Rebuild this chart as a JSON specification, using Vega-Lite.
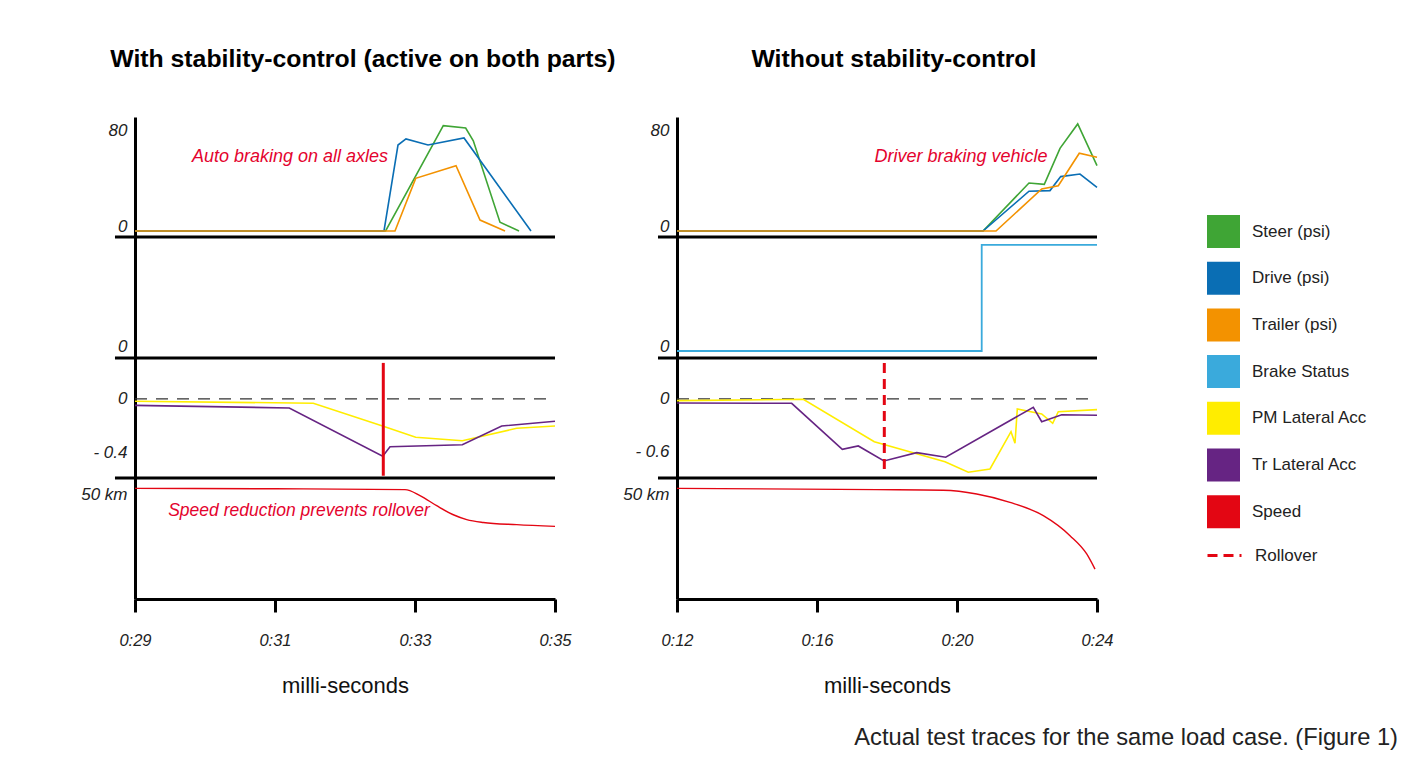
{
  "$schema": "https://vega.github.io/schema/vega-lite/v6.json",
  "background": "white",
  "padding": {"left": 80, "top": 47, "right": 10, "bottom": 10},
  "config": {
    "view": {"stroke": null},
    "font": "Liberation Sans",
    "axis": {"grid": false, "domainColor": "black", "domainWidth": 3, "labelFont": "Liberation Sans", "labelFontStyle": "italic", "labelColor": "#222", "titleFont": "Liberation Sans"},
    "axisY": {"ticks": false, "labelPadding": 8, "labelFontSize": 17},
    "title": {"font": "Liberation Sans"}
  },
  "datasets": {
    "press_L": [
      {"t": 29, "v": 0, "s": "Steer (psi)"}, {"t": 32.58, "v": 0, "s": "Steer (psi)"}, {"t": 33.404, "v": 83.4, "s": "Steer (psi)"}, {"t": 33.724, "v": 81.6, "s": "Steer (psi)"}, {"t": 33.833, "v": 71.5, "s": "Steer (psi)"}, {"t": 34.214, "v": 6.9, "s": "Steer (psi)"}, {"t": 34.486, "v": 0, "s": "Steer (psi)"},
      {"t": 29, "v": 0, "s": "Drive (psi)"}, {"t": 32.557, "v": 0, "s": "Drive (psi)"}, {"t": 32.757, "v": 68.1, "s": "Drive (psi)"}, {"t": 32.871, "v": 72.9, "s": "Drive (psi)"}, {"t": 33.186, "v": 68.1, "s": "Drive (psi)"}, {"t": 33.7, "v": 73.7, "s": "Drive (psi)"}, {"t": 34.657, "v": 0, "s": "Drive (psi)"},
      {"t": 29, "v": 0, "s": "Trailer (psi)"}, {"t": 32.714, "v": 0, "s": "Trailer (psi)"}, {"t": 33.01, "v": 41.7, "s": "Trailer (psi)"}, {"t": 33.586, "v": 51.7, "s": "Trailer (psi)"}, {"t": 33.929, "v": 8.7, "s": "Trailer (psi)"}, {"t": 34.286, "v": 0, "s": "Trailer (psi)"}
    ],
    "press_R": [
      {"t": 12, "v": 0, "s": "Steer (psi)"}, {"t": 20.743, "v": 0, "s": "Steer (psi)"}, {"t": 22.057, "v": 38.0, "s": "Steer (psi)"}, {"t": 22.494, "v": 37.0, "s": "Steer (psi)"}, {"t": 22.943, "v": 65.5, "s": "Steer (psi)"}, {"t": 23.449, "v": 84.8, "s": "Steer (psi)"}, {"t": 24, "v": 51.8, "s": "Steer (psi)"},
      {"t": 12, "v": 0, "s": "Drive (psi)"}, {"t": 20.743, "v": 0, "s": "Drive (psi)"}, {"t": 22.057, "v": 31.5, "s": "Drive (psi)"}, {"t": 22.657, "v": 32.0, "s": "Drive (psi)"}, {"t": 22.963, "v": 43.1, "s": "Drive (psi)"}, {"t": 23.514, "v": 45.1, "s": "Drive (psi)"}, {"t": 24, "v": 34.6, "s": "Drive (psi)"},
      {"t": 12, "v": 0, "s": "Trailer (psi)"}, {"t": 21.114, "v": 0, "s": "Trailer (psi)"}, {"t": 22.42, "v": 33.3, "s": "Trailer (psi)"}, {"t": 22.894, "v": 35.9, "s": "Trailer (psi)"}, {"t": 23.494, "v": 61.6, "s": "Trailer (psi)"}, {"t": 24, "v": 58.4, "s": "Trailer (psi)"}
    ],
    "brake_R": [
      {"t": 12, "v": 0, "s": "Brake Status"}, {"t": 20.706, "v": 1, "s": "Brake Status"}, {"t": 24, "v": 1, "s": "Brake Status"}
    ],
    "acc_L": [
      {"t": 29, "v": -0.017, "s": "PM Lateral Acc"}, {"t": 31.547, "v": -0.032, "s": "PM Lateral Acc"}, {"t": 32.547, "v": -0.206, "s": "PM Lateral Acc"}, {"t": 33.01, "v": -0.289, "s": "PM Lateral Acc"}, {"t": 33.676, "v": -0.315, "s": "PM Lateral Acc"}, {"t": 34.453, "v": -0.221, "s": "PM Lateral Acc"}, {"t": 35, "v": -0.204, "s": "PM Lateral Acc"},
      {"t": 29, "v": -0.048, "s": "Tr Lateral Acc"}, {"t": 31.204, "v": -0.068, "s": "Tr Lateral Acc"}, {"t": 32.539, "v": -0.432, "s": "Tr Lateral Acc"}, {"t": 32.643, "v": -0.36, "s": "Tr Lateral Acc"}, {"t": 33.676, "v": -0.345, "s": "Tr Lateral Acc"}, {"t": 34.239, "v": -0.204, "s": "Tr Lateral Acc"}, {"t": 35, "v": -0.168, "s": "Tr Lateral Acc"}
    ],
    "acc_R": [
      {"t": 12, "v": -0.019, "s": "PM Lateral Acc"}, {"t": 15.609, "v": -0.003, "s": "PM Lateral Acc"}, {"t": 17.637, "v": -0.484, "s": "PM Lateral Acc"}, {"t": 19.657, "v": -0.71, "s": "PM Lateral Acc"}, {"t": 20.323, "v": -0.83, "s": "PM Lateral Acc"}, {"t": 20.943, "v": -0.793, "s": "PM Lateral Acc"}, {"t": 21.543, "v": -0.37, "s": "PM Lateral Acc"}, {"t": 21.657, "v": -0.502, "s": "PM Lateral Acc"}, {"t": 21.723, "v": -0.113, "s": "PM Lateral Acc"}, {"t": 22.42, "v": -0.17, "s": "PM Lateral Acc"}, {"t": 22.734, "v": -0.275, "s": "PM Lateral Acc"}, {"t": 22.894, "v": -0.144, "s": "PM Lateral Acc"}, {"t": 24, "v": -0.121, "s": "PM Lateral Acc"},
      {"t": 12, "v": -0.045, "s": "Tr Lateral Acc"}, {"t": 15.277, "v": -0.049, "s": "Tr Lateral Acc"}, {"t": 16.723, "v": -0.57, "s": "Tr Lateral Acc"}, {"t": 17.18, "v": -0.532, "s": "Tr Lateral Acc"}, {"t": 17.914, "v": -0.702, "s": "Tr Lateral Acc"}, {"t": 18.849, "v": -0.608, "s": "Tr Lateral Acc"}, {"t": 19.677, "v": -0.66, "s": "Tr Lateral Acc"}, {"t": 22.18, "v": -0.094, "s": "Tr Lateral Acc"}, {"t": 22.42, "v": -0.257, "s": "Tr Lateral Acc"}, {"t": 22.991, "v": -0.178, "s": "Tr Lateral Acc"}, {"t": 24, "v": -0.185, "s": "Tr Lateral Acc"}
    ],
    "speed_L": [
      {"t": 29, "v": 50.3, "s": "Speed"}, {"t": 31, "v": 50.1, "s": "Speed"}, {"t": 32.857, "v": 49.7, "s": "Speed"}, {"t": 33.071, "v": 47.0, "s": "Speed"}, {"t": 33.31, "v": 42.4, "s": "Speed"}, {"t": 33.547, "v": 38.3, "s": "Speed"}, {"t": 33.739, "v": 36.1, "s": "Speed"}, {"t": 33.976, "v": 34.8, "s": "Speed"}, {"t": 34.453, "v": 33.8, "s": "Speed"}, {"t": 35, "v": 33.0, "s": "Speed"}
    ],
    "speed_R": [
      {"t": 12, "v": 50.3, "s": "Speed"}, {"t": 17.706, "v": 49.7, "s": "Speed"}, {"t": 19.609, "v": 49.4, "s": "Speed"}, {"t": 20.563, "v": 47.7, "s": "Speed"}, {"t": 21.514, "v": 43.9, "s": "Speed"}, {"t": 22.466, "v": 37.9, "s": "Speed"}, {"t": 23.229, "v": 28.8, "s": "Speed"}, {"t": 23.706, "v": 20.5, "s": "Speed"}, {"t": 23.943, "v": 13.6, "s": "Speed"}
    ],
    "sep_L1": [{"t": 28.714, "t2": 35, "v": -4.75}],
    "sep_L2": [{"t": 28.714, "t2": 35, "v": -0.066}],
    "sep_L3": [{"t": 28.714, "t2": 35, "v": -0.596}],
    "sep_R1": [{"t": 11.457, "t2": 24, "v": -4.75}],
    "sep_R2": [{"t": 11.457, "t2": 24, "v": -0.066}],
    "sep_R3": [{"t": 11.457, "t2": 24, "v": -0.895}],
    "zero_L": [{"t": 29, "t2": 35, "v": 0}],
    "zero_R": [{"t": 12, "t2": 24, "v": 0}],
    "roll_L": [{"t": 32.547, "v": 0.272, "v2": -0.579}],
    "roll_R": [{"t": 17.923, "v": 0.408, "v2": -0.86, "k": "Rollover"}],
    "note_L1": [{"t": 31.214, "v": 58.6, "label": "Auto braking on all axles"}],
    "note_L4": [{"t": 31.343, "v": 40, "label": "Speed reduction prevents rollover"}],
    "note_R1": [{"t": 20.114, "v": 58.6, "label": "Driver braking vehicle"}]
  },
  "title": {"text": "Actual test traces for the same load case. (Figure 1)", "orient": "bottom", "anchor": "end", "fontSize": 23.7, "fontWeight": "normal", "color": "#222", "offset": 29, "dx": 30},
  "spacing": 542,
  "bounds": "flush",
  "hconcat": [
    {
      "title": {"text": "With stability-control (active on both parts)", "fontSize": 24.8, "fontWeight": "bold", "color": "black", "anchor": "middle", "offset": 45, "dx": 37},
      "spacing": 0,
      "bounds": "flush",
      "vconcat": [
        {
          "width": 420, "height": 120,
          "encoding": {
            "x": {"field": "t", "type": "quantitative", "scale": {"domain": [29, 35], "nice": false, "zero": false}, "axis": null},
            "y": {"field": "v", "type": "quantitative", "scale": {"domain": [-4.75, 90.3], "nice": false, "zero": false}, "axis": {"title": null, "values": [0, 80], "labelBaseline": {"condition": {"test": "datum.value == 0", "value": "alphabetic"}, "value": "middle"}}}
          },
          "layer": [
            {"data": {"name": "sep_L1"}, "mark": {"type": "rule", "color": "black", "strokeWidth": 3, "clip": false}, "encoding": {"x2": {"field": "t2"}}},
            {"data": {"name": "press_L"}, "mark": {"type": "line", "strokeWidth": 1.6}, "encoding": {"color": {"field": "s", "type": "nominal",
              "scale": {"domain": ["Steer (psi)", "Drive (psi)", "Trailer (psi)", "Brake Status", "PM Lateral Acc", "Tr Lateral Acc", "Speed"], "range": ["#3fa535", "#0a6eb4", "#f39200", "#3aaadc", "#ffed00", "#662483", "#e30613"]},
              "legend": {"orient": "none", "legendX": 1072, "legendY": 98, "title": null, "symbolType": "square", "symbolSize": 1089, "symbolStrokeWidth": 0, "labelFontSize": 17, "labelFont": "Liberation Sans", "labelColor": "#222", "rowPadding": 13.7, "labelOffset": 12, "padding": 0,
                "encode": {"symbols": {"update": {"fill": {"scale": "color", "field": "value"}, "fillOpacity": {"value": 1}, "opacity": {"value": 1}}}}}}}},
            {"data": {"name": "note_L1"}, "mark": {"type": "text", "fontSize": 18, "fontStyle": "italic", "color": "#e4032e", "align": "center", "baseline": "middle"}, "encoding": {"text": {"field": "label"}}}
          ]
        },
        {
          "width": 420, "height": 121,
          "encoding": {
            "x": {"field": "t", "type": "quantitative", "scale": {"domain": [29, 35], "nice": false, "zero": false}, "axis": null},
            "y": {"field": "v", "type": "quantitative", "scale": {"domain": [-0.066, 1.075], "nice": false, "zero": false}, "axis": {"title": null, "values": [0], "labelBaseline": "alphabetic"}}
          },
          "layer": [
            {"data": {"name": "sep_L2"}, "mark": {"type": "rule", "color": "black", "strokeWidth": 3, "clip": false}, "encoding": {"x2": {"field": "t2"}}}
          ]
        },
        {
          "width": 420, "height": 120,
          "encoding": {
            "x": {"field": "t", "type": "quantitative", "scale": {"domain": [29, 35], "nice": false, "zero": false}, "axis": null},
            "y": {"field": "v", "type": "quantitative", "scale": {"domain": [-0.596, 0.309], "nice": false, "zero": false}, "axis": {"title": null, "values": [0, -0.4], "labelExpr": "datum.value == 0 ? '0' : '- 0.4'", "labelBaseline": "middle"}}
          },
          "layer": [
            {"data": {"name": "sep_L3"}, "mark": {"type": "rule", "color": "black", "strokeWidth": 3, "clip": false}, "encoding": {"x2": {"field": "t2"}}},
            {"data": {"name": "zero_L"}, "mark": {"type": "rule", "color": "#333", "strokeWidth": 1.3, "strokeDash": [12, 9]}, "encoding": {"x2": {"field": "t2"}}},
            {"data": {"name": "acc_L"}, "mark": {"type": "line", "strokeWidth": 1.6}, "encoding": {"color": {"field": "s", "type": "nominal"}}},
            {"data": {"name": "roll_L"}, "mark": {"type": "rule", "color": "#e30613", "strokeWidth": 3}, "encoding": {"y2": {"field": "v2"}}}
          ]
        },
        {
          "width": 420, "height": 121,
          "encoding": {
            "x": {"field": "t", "type": "quantitative", "scale": {"domain": [29, 35], "nice": false, "zero": false},
              "axis": {"title": "milli-seconds", "values": [29, 31, 33, 35], "labelExpr": "'0:' + datum.value", "tickSize": 13, "tickWidth": 3, "tickColor": "black", "labelFontSize": 16.5, "labelPadding": 20, "labelFlush": false, "titleFontSize": 22, "titleFontWeight": "normal", "titleColor": "#111", "titlePadding": 27}},
            "y": {"field": "v", "type": "quantitative", "scale": {"domain": [0, 55], "nice": false, "zero": false}, "axis": {"title": null, "values": [50], "labelExpr": "'50 km'", "labelBaseline": "middle", "labelOffset": 5}}
          },
          "layer": [
            {"data": {"name": "speed_L"}, "mark": {"type": "line", "strokeWidth": 1.4, "interpolate": "monotone"}, "encoding": {"color": {"field": "s", "type": "nominal"}}},
            {"data": {"name": "note_L4"}, "mark": {"type": "text", "fontSize": 17.5, "fontStyle": "italic", "color": "#e4032e", "align": "center", "baseline": "middle"}, "encoding": {"text": {"field": "label"}}}
          ]
        }
      ]
    },
    {
      "title": {"text": "Without stability-control", "fontSize": 24.8, "fontWeight": "bold", "color": "black", "anchor": "middle", "offset": 45, "dx": 26},
      "spacing": 0,
      "bounds": "flush",
      "vconcat": [
        {
          "width": 420, "height": 120,
          "encoding": {
            "x": {"field": "t", "type": "quantitative", "scale": {"domain": [12, 24], "nice": false, "zero": false}, "axis": null},
            "y": {"field": "v", "type": "quantitative", "scale": {"domain": [-4.75, 90.3], "nice": false, "zero": false}, "axis": {"title": null, "values": [0, 80], "labelBaseline": {"condition": {"test": "datum.value == 0", "value": "alphabetic"}, "value": "middle"}}}
          },
          "layer": [
            {"data": {"name": "sep_R1"}, "mark": {"type": "rule", "color": "black", "strokeWidth": 3, "clip": false}, "encoding": {"x2": {"field": "t2"}}},
            {"data": {"name": "press_R"}, "mark": {"type": "line", "strokeWidth": 1.6}, "encoding": {"color": {"field": "s", "type": "nominal"}}},
            {"data": {"name": "note_R1"}, "mark": {"type": "text", "fontSize": 18, "fontStyle": "italic", "color": "#e4032e", "align": "center", "baseline": "middle"}, "encoding": {"text": {"field": "label"}}}
          ]
        },
        {
          "width": 420, "height": 121,
          "encoding": {
            "x": {"field": "t", "type": "quantitative", "scale": {"domain": [12, 24], "nice": false, "zero": false}, "axis": null},
            "y": {"field": "v", "type": "quantitative", "scale": {"domain": [-0.066, 1.075], "nice": false, "zero": false}, "axis": {"title": null, "values": [0], "labelBaseline": "alphabetic"}}
          },
          "layer": [
            {"data": {"name": "sep_R2"}, "mark": {"type": "rule", "color": "black", "strokeWidth": 3, "clip": false}, "encoding": {"x2": {"field": "t2"}}},
            {"data": {"name": "brake_R"}, "mark": {"type": "line", "strokeWidth": 1.8, "interpolate": "step-after"}, "encoding": {"color": {"field": "s", "type": "nominal"}}}
          ]
        },
        {
          "width": 420, "height": 120,
          "encoding": {
            "x": {"field": "t", "type": "quantitative", "scale": {"domain": [12, 24], "nice": false, "zero": false}, "axis": null},
            "y": {"field": "v", "type": "quantitative", "scale": {"domain": [-0.895, 0.464], "nice": false, "zero": false}, "axis": {"title": null, "values": [0, -0.6], "labelExpr": "datum.value == 0 ? '0' : '- 0.6'", "labelBaseline": "middle"}}
          },
          "layer": [
            {"data": {"name": "sep_R3"}, "mark": {"type": "rule", "color": "black", "strokeWidth": 3, "clip": false}, "encoding": {"x2": {"field": "t2"}}},
            {"data": {"name": "zero_R"}, "mark": {"type": "rule", "color": "#333", "strokeWidth": 1.3, "strokeDash": [12, 9]}, "encoding": {"x2": {"field": "t2"}}},
            {"data": {"name": "acc_R"}, "mark": {"type": "line", "strokeWidth": 1.6}, "encoding": {"color": {"field": "s", "type": "nominal"}}},
            {"data": {"name": "roll_R"}, "mark": {"type": "rule", "color": "#e30613", "strokeWidth": 3}, "encoding": {"y2": {"field": "v2"},
              "strokeDash": {"field": "k", "type": "nominal", "scale": {"domain": ["Rollover"], "range": [[10, 6]]},
                "legend": {"orient": "none", "legendX": 1071, "legendY": 420, "title": null, "symbolType": "stroke", "symbolSize": 1156, "symbolStrokeWidth": 3, "symbolStrokeColor": "#e30613", "labelFontSize": 17, "labelFont": "Liberation Sans", "labelColor": "#222", "labelOffset": 12, "padding": 0,
                  "encode": {"symbols": {"update": {"strokeDash": {"value": [8, 5]}, "stroke": {"value": "#e30613"}}}}}}}}
          ]
        },
        {
          "width": 420, "height": 121,
          "encoding": {
            "x": {"field": "t", "type": "quantitative", "scale": {"domain": [12, 24], "nice": false, "zero": false},
              "axis": {"title": "milli-seconds", "values": [12, 16, 20, 24], "labelExpr": "'0:' + datum.value", "tickSize": 13, "tickWidth": 3, "tickColor": "black", "labelFontSize": 16.5, "labelPadding": 20, "labelFlush": false, "titleFontSize": 22, "titleFontWeight": "normal", "titleColor": "#111", "titlePadding": 27}},
            "y": {"field": "v", "type": "quantitative", "scale": {"domain": [0, 55], "nice": false, "zero": false}, "axis": {"title": null, "values": [50], "labelExpr": "'50 km'", "labelBaseline": "middle", "labelOffset": 5}}
          },
          "layer": [
            {"data": {"name": "speed_R"}, "mark": {"type": "line", "strokeWidth": 1.4, "interpolate": "monotone"}, "encoding": {"color": {"field": "s", "type": "nominal"}}}
          ]
        }
      ]
    }
  ]
}
